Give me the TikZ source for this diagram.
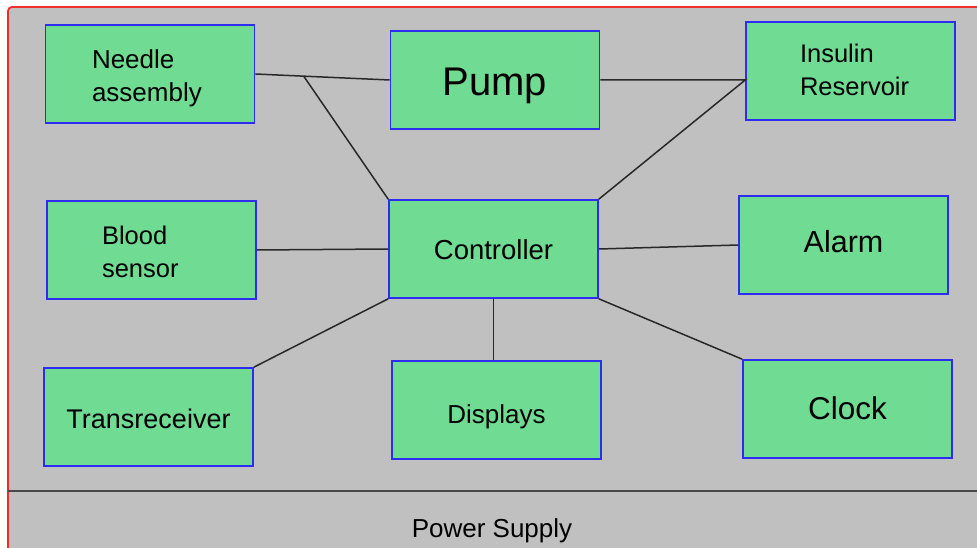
\documentclass[tikz,border=0pt]{standalone}
\usepackage{fontspec}
\setmainfont{Liberation Sans}
\usepackage{tikz}
\usetikzlibrary{positioning, calc}

\definecolor{boxgreen}{RGB}{112,219,146}
\definecolor{boxblue}{RGB}{45,45,240}
\definecolor{panelgray}{RGB}{192,192,192}
\definecolor{framered}{RGB}{240,45,45}
\definecolor{wiregray}{RGB}{40,40,40}

\begin{document}
\begin{tikzpicture}[x=1pt, y=-1pt,
    block/.style={rectangle, draw=boxblue, fill=boxgreen, line width=1.6pt,
      minimum width=209pt, minimum height=98pt, inner sep=0pt, align=left},
    wire/.style={draw=wiregray, line width=1.5pt},
    txt/.style={font=\fontsize{#1}{33}\selectfont},
    lift/.style 2 args={text height=#1, text depth=#2}]
  \useasboundingbox (0,0) rectangle (977,548);
  \clip (0,0) rectangle (977,548);
  \fill[white] (0,0) rectangle (977,548);
  \draw[framered, fill=panelgray, line width=1.8pt, rounded corners=4pt] (8,7) rectangle (995,565);

  % blocks
  \node[block, txt=26, lift={19pt}{29pt}, text width=116pt] (needle) at (150,74) {Needle\\assembly};
  \node[block, txt=40, lift={32pt}{0pt}] (pump) at (495,80) {Pump};
  \node[block, txt=25.5, lift={19pt}{35pt}, text width=101pt] (insulin) at (850.5,71) {Insulin\\Reservoir};
  \node[block, txt=25.5, lift={19pt}{31pt}, text width=99pt] (blood) at (151.5,250) {Blood\\sensor};
  \node[block, txt=27.5, lift={20pt}{0pt}] (ctrl) at (493.5,249) {Controller};
  \node[block, txt=30.5, lift={14pt}{0pt}] (alarm) at (843.5,245) {Alarm};
  \node[block, txt=27, lift={22pt}{0pt}] (trans) at (148.5,417) {Transreceiver};
  \node[block, txt=26, lift={26pt}{0pt}] (disp) at (496.5,410) {Displays};
  \node[block, txt=31.5, lift={20pt}{0pt}] (clock) at (847.5,409) {Clock};

  % power supply strip
  \draw[wiregray!85, line width=1.8pt] (8,491) -- (977,491);
  \node[txt=26, anchor=base] (power) at (492,537) {Power Supply};

  % connections
  \coordinate (jn) at ($(needle.east)!0.36!(pump.west)$);
  \coordinate (ji) at (insulin.west |- pump.east);
  \draw[wire] (needle.east) -- (pump.west);
  \draw[wire] (jn) -- (ctrl.north west);
  \draw[wire] (pump.east) -- (ji) -- (ctrl.north east);
  \draw[wire] (blood.east) -- (ctrl.west);
  \draw[wire] (ctrl.east) -- (alarm.west);
  \draw[wire] (ctrl.south west) -- (trans.north east);
  \draw[wire] (ctrl.south) -- (ctrl.south |- disp.north);
  \draw[wire] (ctrl.south east) -- (clock.north west);
\end{tikzpicture}
\end{document}
